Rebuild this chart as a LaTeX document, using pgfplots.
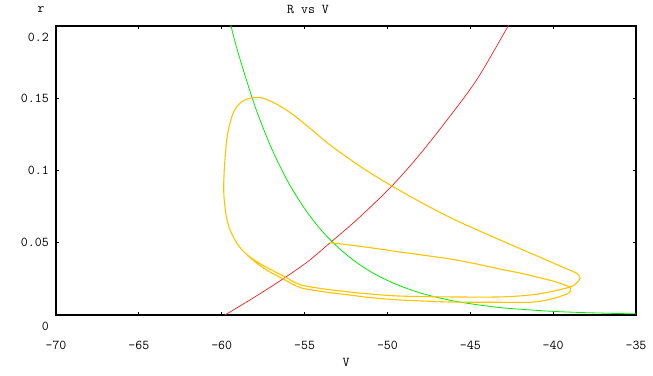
\documentclass[border=0pt]{standalone}
\usepackage{pgfplots}
\pgfplotsset{compat=1.18}
\definecolor{cOrange}{RGB}{255,196,0}
\definecolor{cGreen}{RGB}{0,235,0}
\definecolor{cRed}{RGB}{245,30,30}
\begin{document}
\begin{tikzpicture}
\useasboundingbox (0,0) rectangle (653pt,375pt);
\begin{axis}[
  at={(56pt,60pt)}, anchor=south west,
  scale only axis, width=580pt, height=289pt,
  xmin=-70, xmax=-35, ymin=0, ymax=0.2,
  axis line style={line width=1.5pt},
  font=\fontsize{13.5}{13.5}\selectfont\ttfamily,
  xtick={-70,-65,-60,-55,-50,-45,-40,-35},
  xticklabels={-70,-65,-60,-55,-50,-45,-40,-35},
  ytick={0.05,0.1,0.15},
  yticklabels={0.05,0.1,0.15},
  extra y ticks={0,0.2},
  extra y tick labels={0,0.2},
  extra y tick style={yticklabel style={yshift=-11pt}},
  tick align=inside, major tick length=3pt,
  tick style={line width=1pt,black},
  xtick pos=both, ytick pos=both,
  xticklabel style={anchor=center, yshift=-30pt},
  yticklabel style={anchor=east, inner sep=0pt, xshift=-7pt},
  title={R vs V},
  title style={at={(rel axis cs:0.5,1)}, anchor=center, xshift=-38pt, yshift=11pt},
  xlabel={V},
  xlabel style={at={(rel axis cs:0.5,0)}, anchor=center, yshift=-47pt},
  ylabel={r},
  ylabel style={at={(rel axis cs:0,1)}, rotate=-90, anchor=center, xshift=-15pt, yshift=16pt},
  clip=true,
]
% red curve
\addplot[cRed, line width=0.7pt, smooth] coordinates {
(-59.8,0) (-58,0.0125) (-56.3,0.0250) (-54.8,0.037) (-53.46,0.0500)
(-51.84,0.0660) (-49.84,0.0880) (-48.2,0.1090) (-46.4,0.1350)
(-44.6,0.1630) (-42.72,0.2000) (-42.3,0.2100)
};
% green curve
\addplot[cGreen, line width=0.8pt, smooth] coordinates {
(-59.7,0.212) (-59.44,0.2) (-59,0.1811) (-58,0.1447) (-57,0.1155) (-56,0.0922)
(-55,0.0737) (-54,0.0588) (-53,0.0470) (-52,0.0375) (-51,0.0299)
(-50,0.0239) (-49,0.0191) (-48,0.0152) (-47,0.0122) (-46,0.0097)
(-45,0.0078) (-44,0.0062) (-43,0.0049) (-42,0.0040) (-41,0.0032)
(-40,0.0025) (-39,0.0020) (-38,0.0016) (-37,0.0013) (-36,0.0010)
(-35,0.0008)
};
% orange trajectory, first pass
\addplot[cOrange, line width=1.1pt, smooth] coordinates {
(-53.46,0.0500) (-52.3,0.0485) (-50.8,0.0462) (-49.24,0.0436)
(-47.7,0.0412) (-46.22,0.0388) (-44.7,0.0355) (-43.2,0.0318)
(-42.0,0.0290) (-40.8,0.0258) (-39.8,0.0228) (-38.98,0.0194)
};
% orange trajectory, continuing
\addplot[cOrange, line width=1.1pt, smooth] coordinates {
(-38.98,0.0194) (-39.05,0.0152) (-40.2,0.0108) (-41.4,0.0088)
(-43.2,0.0088) (-46.22,0.0090) (-49.24,0.0104) (-51.0,0.0120)
(-52.26,0.0138) (-53.8,0.0160) (-55.27,0.0190) (-56.3,0.0250)
(-57.2,0.0305) (-57.9,0.0360) (-58.6,0.0430) (-59.1,0.0500)
(-59.5,0.0590) (-59.72,0.0680) (-59.85,0.0800) (-59.88,0.0900)
(-59.82,0.1050) (-59.65,0.1250) (-59.3,0.1400) (-58.8,0.1475)
(-58.1,0.1505) (-57.5,0.1500) (-56.7,0.1460) (-55.8,0.1395)
(-54.7,0.1295) (-53.5,0.1180) (-51.6,0.1025) (-49.84,0.0900)
(-47.9,0.0775) (-45.9,0.0657) (-43.2,0.0519) (-40.8,0.0400)
(-39.4,0.0330) (-38.6,0.0290) (-38.38,0.0255) (-38.6,0.0220)
(-38.98,0.0194) (-40.2,0.0160) (-41.4,0.0138) (-43.2,0.0125)
(-46.22,0.0125) (-49.24,0.0131) (-51.0,0.0145) (-52.26,0.0159)
(-53.8,0.0180) (-55.27,0.0210) (-56.2,0.0265) (-57.1,0.0318)
(-57.9,0.0370) (-58.6,0.0430) (-59.1,0.0500) (-59.5,0.0590)
(-59.72,0.0680) (-59.85,0.0800)
};
\end{axis}
\end{tikzpicture}
\end{document}
